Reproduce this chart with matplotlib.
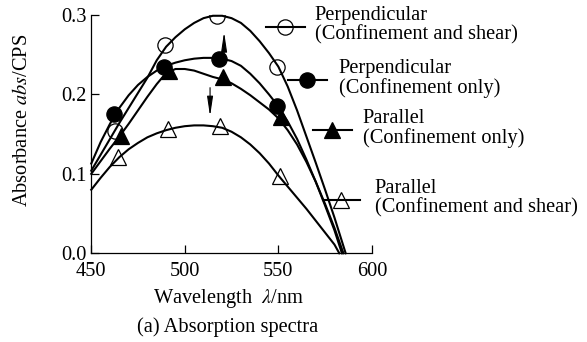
import matplotlib
matplotlib.use('Agg')
import matplotlib.pyplot as plt
import numpy as np

plt.rcParams['font.family'] = ['Liberation Serif', 'DejaVu Serif']
plt.rcParams['mathtext.fontset'] = 'stix'
plt.rcParams['font.size'] = 14.7

# Puntos medidos (longitud de onda, absorbancia)
perp_shear_x = [462.8, 489.4, 517.3, 549.5]
perp_shear_y = [0.154, 0.262, 0.299, 0.235]
perp_conf_x = [462.2, 489.0, 518.3, 549.4]
perp_conf_y = [0.175, 0.235, 0.245, 0.186]
par_conf_x = [465.8, 491.8, 520.3, 551.2]
par_conf_y = [0.148, 0.230, 0.222, 0.171]
par_shear_x = [464.4, 491.2, 519.0, 551.0]
par_shear_y = [0.121, 0.157, 0.160, 0.097]

# Curvas ajustadas
curve_x = [450, 455, 460, 465, 470, 475, 480, 485, 490, 495, 500, 505, 510,
           515, 520, 525, 530, 535, 540, 545, 550, 555, 560, 565, 570, 575, 580]
perp_shear_fit = [0.104, 0.124, 0.144, 0.164, 0.183, 0.202, 0.221, 0.243, 0.260,
                  0.272, 0.282, 0.290, 0.296, 0.299, 0.299, 0.296, 0.290, 0.280,
                  0.267, 0.252, 0.235, 0.210, 0.180, 0.147, 0.114, 0.080, 0.045]
perp_conf_fit = [0.113, 0.140, 0.163, 0.183, 0.199, 0.212, 0.222, 0.230, 0.236,
                 0.240, 0.243, 0.245, 0.246, 0.246, 0.245, 0.242, 0.236, 0.226,
                 0.214, 0.200, 0.185, 0.166, 0.144, 0.118, 0.090, 0.060, 0.029]
par_conf_fit = [0.100, 0.116, 0.132, 0.147, 0.163, 0.180, 0.197, 0.213, 0.227,
                0.232, 0.232, 0.230, 0.226, 0.222, 0.219, 0.214, 0.207, 0.199,
                0.190, 0.181, 0.170, 0.155, 0.137, 0.115, 0.090, 0.062, 0.032]
par_shear_fit = [0.080, 0.095, 0.109, 0.121, 0.131, 0.139, 0.146, 0.151, 0.155,
                 0.158, 0.160, 0.161, 0.161, 0.160, 0.158, 0.153, 0.146, 0.137,
                 0.126, 0.113, 0.098, 0.084, 0.070, 0.056, 0.041, 0.026, 0.011]
zero_nm = {'perp_shear': 586.0, 'perp_conf': 584.0, 'par_conf': 584.8, 'par_shear': 582.6}

labels = ['Perpendicular\n(Confinement and shear)',
          'Perpendicular\n(Confinement only)',
          'Parallel\n(Confinement only)',
          'Parallel\n(Confinement and shear)']

fig = plt.figure(figsize=(5.87, 3.42), dpi=100)
ax = fig.add_axes([0.1555, 0.2594, 0.478, 0.6968])

series = [
    ('perp_shear', perp_shear_x, perp_shear_y, perp_shear_fit, 'o', 'none'),
    ('perp_conf', perp_conf_x, perp_conf_y, perp_conf_fit, 'o', 'k'),
    ('par_conf', par_conf_x, par_conf_y, par_conf_fit, '^', 'k'),
    ('par_shear', par_shear_x, par_shear_y, par_shear_fit, '^', 'none'),
]

for key, px, py, fit, mk, fc in series:
    ax.plot(curve_x + [zero_nm[key]], fit + [0.0], color='k', lw=1.5, clip_on=False)
    ax.plot(px, py, ls='none', marker=mk, ms=11, mfc=fc, mec='k', mew=0.9, zorder=4)

# Flechas: cambio por cizalla
ax.annotate('', xy=(521, 0.282), xytext=(521, 0.249),
            arrowprops=dict(arrowstyle='-|>,head_width=0.12,head_length=0.8', color='k', lw=0.8))
ax.annotate('', xy=(513.5, 0.169), xytext=(513.5, 0.212),
            arrowprops=dict(arrowstyle='-|>,head_width=0.12,head_length=0.8', color='k', lw=0.8))

# Leyenda manual escalonada
leg_pos = [(543.4, 564.1, 0.285, 569.5), (555.1, 575.9, 0.2185, 582.4),
           (568.5, 589.3, 0.155, 595.2), (573.8, 593.6, 0.067, 601.6)]
for (key, px, py, fit, mk, fc), (x0, x1, yy, tx), lab in zip(series, leg_pos, labels):
    ax.plot([x0, x1], [yy, yy], color='k', lw=1.5, clip_on=False, zorder=5)
    ax.plot([(x0 + x1) / 2], [yy], marker=mk, ms=11, mfc=fc, mec='k', mew=0.9,
            clip_on=False, zorder=6)
    ax.text(tx, yy + 0.002, lab, ha='left', va='center', fontsize=14.7, linespacing=1.0)

ax.set_xlim(450, 600)
ax.set_ylim(0, 0.3)
ax.set_xticks([450, 500, 550, 600])
ax.set_yticks([0.0, 0.1, 0.2, 0.3])
ax.set_yticklabels(['0.0', '0.1', '0.2', '0.3'])
ax.tick_params(direction='in', length=6, width=0.9, labelsize=14.7)
ax.tick_params(axis='x', pad=6)
ax.tick_params(axis='y', pad=3)
ax.spines['top'].set_visible(False)
ax.spines['right'].set_visible(False)
for s in ['left', 'bottom']:
    ax.spines[s].set_linewidth(0.9)
ax.patch.set_visible(False)

ax.set_ylabel(r'Absorbance $\mathit{abs}$/CPS', fontsize=14.7)
ax.yaxis.set_label_coords(-0.21, 0.56)
fig.text(229 / 587, 1 - 298 / 342, r'Wavelength  $\lambda$/nm', ha='center', va='center', fontsize=14.7)
fig.text(228 / 587, 1 - 327 / 342, '(a) Absorption spectra', ha='center', va='center', fontsize=14.7)

fig.savefig('out.png', dpi=100)
